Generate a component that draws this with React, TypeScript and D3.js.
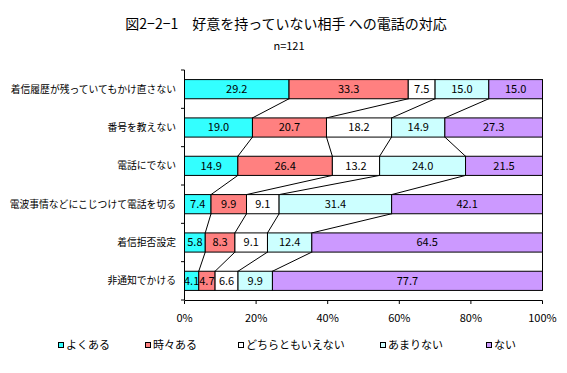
import React from 'react';
import * as d3 from 'd3';

const categories = [
  '着信履歴が残っていてもかけ直さない',
  '番号を教えない',
  '電話にでない',
  '電波事情などにこじつけて電話を切る',
  '着信拒否設定',
  '非通知でかける',
];
const seriesNames = ['よくある', '時々ある', 'どちらともいえない', 'あまりない', 'ない'];
const often = [29.2, 19.0, 14.9, 7.4, 5.8, 4.1];
const sometimes = [33.3, 20.7, 26.4, 9.9, 8.3, 4.7];
const neither = [7.5, 18.2, 13.2, 9.1, 9.1, 6.6];
const rarely = [15.0, 14.9, 24.0, 31.4, 12.4, 9.9];
const never = [15.0, 27.3, 21.5, 42.1, 64.5, 77.7];
const xTicks = [0, 0.2, 0.4, 0.6, 0.8, 1];
const colors = ['#33FFFF', '#FF8080', '#FFFFFF', '#CCFFFF', '#CC99FF'];
const legendX = [58, 145, 238, 380, 486];

const App = () => {
  const width = 567;
  const height = 373;
  const font = '"Noto Sans CJK JP", sans-serif';

  const rows = categories.map((c, i) => ({
    cat: c,
    s0: often[i], s1: sometimes[i], s2: neither[i], s3: rarely[i], s4: never[i],
  }));
  const keys = ['s0', 's1', 's2', 's3', 's4'];
  // 100% stacked, like the original (last row sums to 103)
  const stacked = d3.stack<any>().keys(keys).offset(d3.stackOffsetExpand)(rows);

  const x = d3.scaleLinear().domain([0, 1]).range([184.5, 542.5]);
  const y = d3.scaleBand()
    .domain(categories)
    .range([70, 300])
    .paddingInner(0.5)
    .paddingOuter(0.25);
  const step = y.step();
  const bw = y.bandwidth();

  return (
    <svg width={width} height={height} style={{ position: 'absolute', left: 0, top: 0, background: '#fff' }}>
      <text x={286} y={29} textAnchor='middle' fontFamily={font} fontSize={14}>
        図2−2−1　好意を持っていない相手 への電話の対応
      </text>
      <text x={289} y={50} textAnchor='middle' fontFamily={font} fontSize={11}>n=121</text>

      {/* series lines between bars */}
      {stacked.map((s, k) =>
        categories.slice(0, -1).map((c, i) => (
          <line key={`sl-${k}-${i}`}
            x1={x(s[i][1])} y1={(y(c) as number) + bw}
            x2={x(s[i + 1][1])} y2={y(categories[i + 1]) as number}
            stroke='#000' strokeWidth={1} />
        ))
      )}

      {stacked.map((s, k) =>
        s.map((d, i) => (
          <rect key={`bar-${k}-${i}`}
            x={x(d[0])} y={y(categories[i])}
            width={x(d[1]) - x(d[0])} height={bw}
            fill={colors[k]} stroke='#000' strokeWidth={1} />
        ))
      )}

      {stacked.map((s, k) =>
        s.map((d, i) => (
          <text key={`val-${k}-${i}`}
            x={(x(d[0]) + x(d[1])) / 2} y={(y(categories[i]) as number) + bw / 2}
            dy='0.36em' textAnchor='middle' fontFamily={font} fontSize={11}>
            {(rows[i] as any)[keys[k]].toFixed(1)}
          </text>
        ))
      )}

      {/* axes */}
      <line x1={184.5} x2={184.5} y1={70} y2={300} stroke='#000' />
      {d3.range(categories.length + 1).map(i => (
        <line key={`yt-${i}`} x1={181} x2={184.5} y1={70 + i * step} y2={70 + i * step} stroke='#000' />
      ))}
      <line x1={184.5} x2={542.5} y1={300.5} y2={300.5} stroke='#000' />
      {xTicks.map(t => (
        <g key={`xt-${t}`}>
          <line x1={x(t)} x2={x(t)} y1={300.5} y2={304} stroke='#000' />
          <text x={x(t)} y={322} textAnchor='middle' fontFamily={font} fontSize={11}>{`${Math.round(t * 100)}%`}</text>
        </g>
      ))}

      {categories.map(c => (
        <text key={`cat-${c}`} x={176} y={(y(c) as number) + bw / 2} dy='0.36em'
          textAnchor='end' fontFamily={font} fontSize={9.8}>{c}</text>
      ))}

      {seriesNames.map((n, k) => (
        <g key={`lg-${k}`}>
          <rect x={legendX[k] + 0.5} y={342.5} width={5} height={5} fill={colors[k]} stroke='#000' />
          <text x={legendX[k] + 8} y={345} dy='0.36em' fontFamily={font} fontSize={11}>{n}</text>
        </g>
      ))}
    </svg>
  );
};

export default App;
